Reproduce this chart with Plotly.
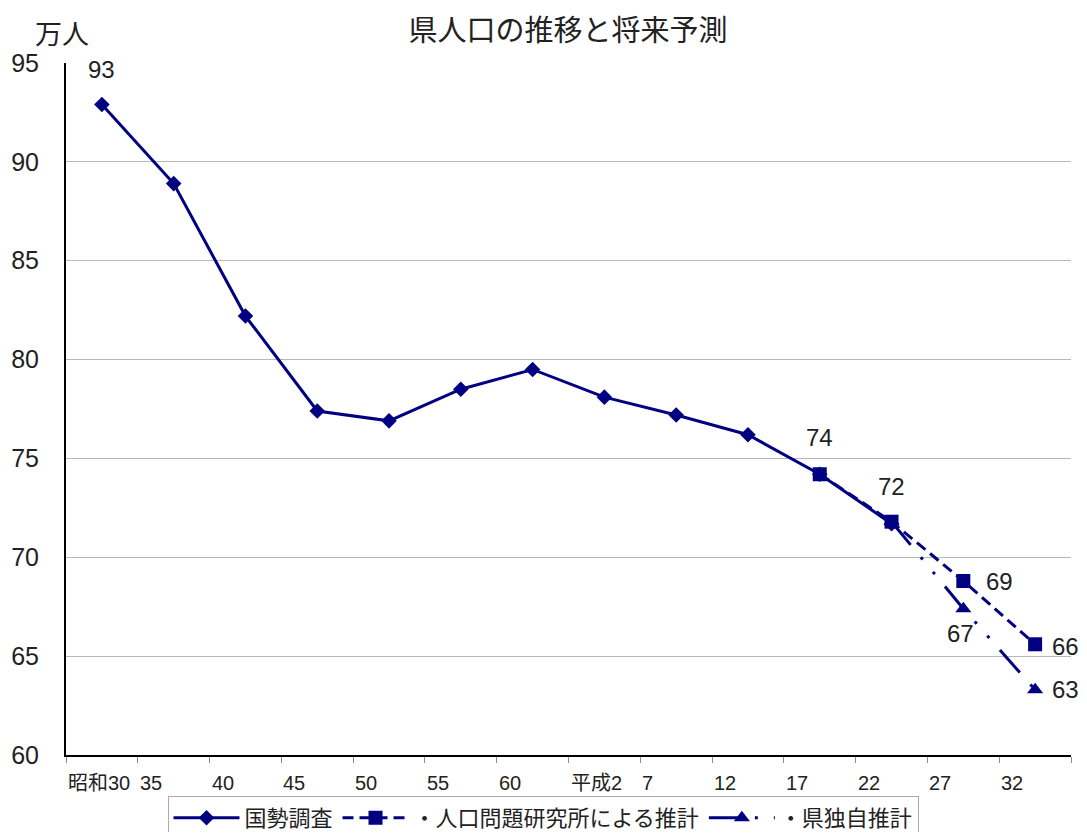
import plotly.graph_objects as go

categories = ["昭和30", "35", "40", "45", "50", "55", "60", "平成2", "7", "12", "17", "22", "27", "32"]
kokusei = [92.9, 88.9, 82.2, 77.4, 76.9, 78.5, 79.5, 78.1, 77.2, 76.2, 74.2, 71.7, None, None]
ipss = [None] * 10 + [74.2, 71.8, 68.8, 65.6]
ken = [None] * 11 + [71.8, 67.4, 63.3]
yticks = [60, 65, 70, 75, 80, 85, 90, 95]

# data labels: (category index, series, text, x offset px, y offset px)
label_idx = [0, 10, 11, 12, 13, 12, 13]
label_series = ["kokusei", "ipss", "ipss", "ipss", "ipss", "ken", "ken"]
label_text = ["93", "74", "72", "69", "66", "67", "63"]
label_dx = [0, 0, 0, 36, 30, -3, 30]
label_dy = [35, 37, 35, 0, -2, -25, 0]

NAVY = "#000080"
FONT = "Liberation Sans, Arial, Noto Sans CJK JP, sans-serif"
JP = "Noto Sans CJK JP, sans-serif"
xs = list(range(len(categories)))
series = {"kokusei": kokusei, "ipss": ipss, "ken": ken}

W, H = 1071, 824
L, R, T, B = 58, 8, 55, 77
PW, PH = W - L - R, H - T - B

fig = go.Figure()
fig.add_trace(go.Scatter(
    x=xs, y=ken, name="・県独自推計", mode="lines+markers",
    line=dict(color=NAVY, width=3, dash="30px,16px,3px,16px,3px,16px"),
    marker=dict(symbol="triangle-up", size=14, color=NAVY),
    cliponaxis=False))
fig.add_trace(go.Scatter(
    x=xs, y=ipss, name="・人口問題研究所による推計", mode="lines+markers",
    line=dict(color=NAVY, width=3, dash="11px,6px"),
    marker=dict(symbol="square", size=14, color=NAVY),
    cliponaxis=False))
fig.add_trace(go.Scatter(
    x=xs, y=kokusei, name="国勢調査", mode="lines+markers",
    line=dict(color=NAVY, width=3),
    marker=dict(symbol="diamond", size=12, color=NAVY),
    cliponaxis=False))

annotations = []
for i, s, t, dx, dy in zip(label_idx, label_series, label_text, label_dx, label_dy):
    annotations.append(dict(
        x=i, y=series[s][i], xref="x", yref="y", text=t, showarrow=False,
        xanchor="center", yanchor="middle", xshift=dx, yshift=dy,
        font=dict(size=24, color="#222", family=FONT)))
for i, lab in enumerate(categories):
    annotations.append(dict(
        x=i - 0.5, y=0, xref="x", yref="paper", text=lab, showarrow=False,
        xanchor="left", yanchor="top", xshift=0, yshift=-15,
        font=dict(size=20, color="#222", family=FONT)))
annotations.append(dict(x=(54 - L) / PW, y=1 + (T - 25) / PH, xref="paper", yref="paper",
                        text="万人", showarrow=False, xanchor="center", yanchor="middle",
                        font=dict(size=27, color="#222", family=JP)))

fig.update_layout(
    width=W, height=H,
    margin=dict(l=L, r=R, t=T, b=B),
    paper_bgcolor="white", plot_bgcolor="white",
    title=dict(text="県人口の推移と将来予測", x=560 / W, xanchor="center",
               y=1 - 23 / H, yanchor="middle",
               font=dict(size=29, color="#222", family=JP)),
    xaxis=dict(range=[-0.5, 13.5], tickvals=[i - 0.5 for i in range(len(categories) + 1)],
               showticklabels=False, ticks="outside", ticklen=6, tickcolor="#888",
               showgrid=False, showline=True, linecolor="black", linewidth=2, zeroline=False,
               automargin=False),
    yaxis=dict(range=[60, 95], tickvals=yticks, showgrid=True, gridcolor="#b8b8b8", gridwidth=1,
               showline=True, linecolor="black", linewidth=2, zeroline=False, automargin=False,
               tickfont=dict(size=25, color="#222", family=FONT), ticks="", ticklabelstandoff=20),
    showlegend=True,
    legend=dict(orientation="h", xref="container", yref="container",
                x=535 / W, xanchor="center", y=(H - 788) / H, yanchor="top",
                bordercolor="#aaa", borderwidth=1, traceorder="reversed",
                font=dict(size=22, color="#222", family=JP), itemwidth=66),
    annotations=annotations,
)
fig.write_html("out.html")
